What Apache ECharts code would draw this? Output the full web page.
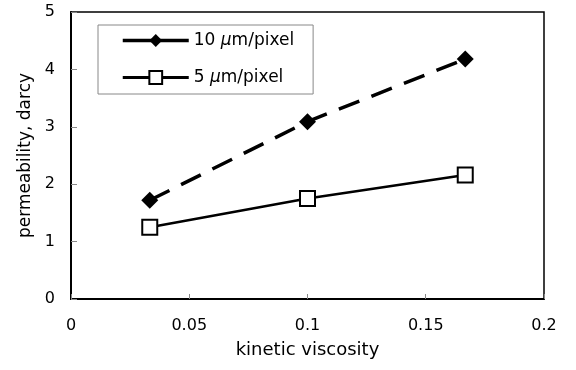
<!DOCTYPE html>
<html>
<head>
<meta charset="utf-8">
<script src="https://cdn.jsdelivr.net/npm/echarts@6/dist/echarts.min.js"></script>
<style>
  html, body { margin: 0; padding: 0; background: #fff; }
  #chart { width: 576px; height: 370px; }
</style>
</head>
<body>
<div id="chart"></div>
<script>
  // values
  var viscosity = [0.0333, 0.1, 0.1667]
  var perm10 = [1.72, 3.09, 4.18]
  var perm5 = [1.25, 1.75, 2.16]
  var seriesNames = ['10 \u03bcm/pixel', '5 \u03bcm/pixel']

  var font = 'DejaVu Sans'

  function pairs(xs, ys) {
    return xs.map(function(x, i) { return [x, ys[i]] })
  }

  var chart = echarts.init(document.getElementById('chart'))

  chart.setOption({
    animation: false,
    backgroundColor: '#fff',
    grid: {
      left: 71, top: 12, right: 32, bottom: 71,
      show: true, borderColor: '#000', borderWidth: 1.5
    },
    legend: {
      orient: 'vertical',
      left: 98, top: 25,
      padding: [7, 19, 8, 23],
      itemWidth: 66, itemHeight: 16, itemGap: 20,
      backgroundColor: '#fff',
      borderColor: '#888', borderWidth: 1,
      formatter: function(name) {
        // italic mu like the original
        return name.replace('\u03bc', '{mu|\u03bc}')
      },
      textStyle: {
        fontFamily: font, fontSize: 17, color: '#000',
        rich: { mu: { fontFamily: font, fontSize: 17, fontStyle: 'italic', color: '#000' } }
      },
      data: [
        { name: seriesNames[0], lineStyle: { type: 'solid', width: 3.5 } },
        { name: seriesNames[1], lineStyle: { width: 3 } }
      ]
    },
    xAxis: {
      type: 'value',
      min: 0, max: 0.2, interval: 0.05,
      name: 'kinetic viscosity',
      nameLocation: 'middle',
      nameGap: 42,
      nameTextStyle: { fontFamily: font, fontSize: 18, color: '#000' },
      axisLine: { lineStyle: { color: '#000', width: 2 } },
      axisTick: { inside: true, length: 5, lineStyle: { color: '#888' } },
      axisLabel: { fontFamily: font, fontSize: 16, color: '#000', margin: 19 },
      splitLine: { show: false }
    },
    yAxis: {
      type: 'value',
      min: 0, max: 5, interval: 1,
      name: 'permeability, darcy',
      nameLocation: 'middle',
      nameGap: 25,
      nameTextStyle: { fontFamily: font, fontSize: 17, color: '#000' },
      axisLine: { lineStyle: { color: '#000', width: 2 } },
      axisTick: { inside: true, length: 6, lineStyle: { color: '#888' } },
      axisLabel: { fontFamily: font, fontSize: 16, color: '#000', margin: 16 },
      splitLine: { show: false }
    },
    series: [
      {
        name: seriesNames[0],
        type: 'line',
        data: pairs(viscosity, perm10),
        symbol: 'diamond',
        symbolSize: 17,
        itemStyle: { color: '#000' },
        lineStyle: { color: '#000', width: 3.5, type: [22, 13] }
      },
      {
        name: seriesNames[1],
        type: 'line',
        data: pairs(viscosity, perm5),
        symbol: 'rect',
        symbolSize: 15,
        itemStyle: { color: '#fff', borderColor: '#000', borderWidth: 2 },
        lineStyle: { color: '#000', width: 2.5 }
      }
    ]
  })
</script>
</body>
</html>
